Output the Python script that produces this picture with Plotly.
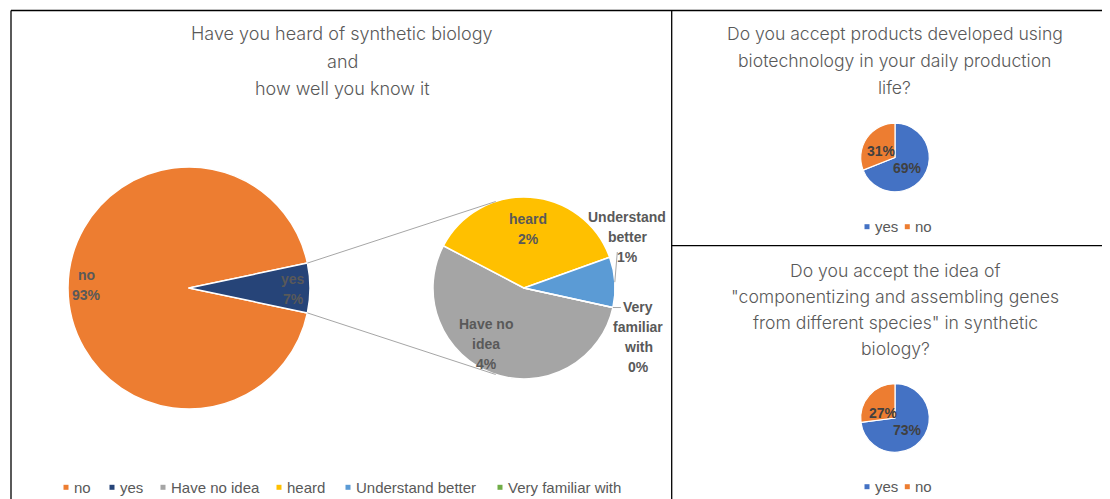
import math
import plotly.graph_objects as go

W, H = 1110, 499          # browser window
OFF = 8                   # default page body margin
FW, FH = W - OFF, H - OFF  # figure size so it fills the window exactly

# ---------------- data ----------------
main_labels = ["no", "yes"]
main_values = [93.4, 6.6]
main_colors = ["#ED7D31", "#264478"]

sub_labels = ["Have no idea", "heard", "Understand better", "Very familiar with"]
sub_values = [3.58, 2.43, 0.59, 0.0]
sub_colors = ["#A5A5A5", "#FFC000", "#5B9BD5", "#70AD47"]

q1_title = ["Have you heard of synthetic biology", "and", "how well you know it"]

q2_title = ["Do you accept products developed using",
            "biotechnology in your daily production", "life?"]
q2_labels = ["yes", "no"]
q2_values = [69, 31]

q3_title = ["Do you accept the idea of", "\"componentizing and assembling genes",
            "from different species\" in synthetic", "biology?"]
q3_labels = ["yes", "no"]
q3_values = [73, 27]
yn_colors = ["#4472C4", "#ED7D31"]

# ---------------- layout helpers (window pixel -> paper) ----------------
def fx(x):
    return (x - OFF) / FW

def fy(y):
    return 1 - (y - OFF) / FH

def domain(cx, cy, r):
    return dict(x=[fx(cx - r), fx(cx + r)], y=[fy(cy + r), fy(cy - r)])

def edge(cx, cy, r, ang):
    a = math.radians(ang)
    return cx + r * math.sin(a), cy - r * math.cos(a)

def pct(v):
    return f"{v:.0f}%"

TXT = "#595959"
LBL_FONT = "Liberation Sans"
TITLE_FONT = "Inter"

annotations = []
shapes = []

def ann(x, y, text, size=14, color=TXT, xanchor="center", family=LBL_FONT, weight=None):
    f = dict(size=size, color=color, family=family)
    if weight is not None:
        f["weight"] = weight
    annotations.append(dict(x=fx(x), y=fy(y), xref="paper", yref="paper", text=text,
                            showarrow=False, xanchor=xanchor, yanchor="middle",
                            font=f, align="center"))

def label(x, y, lines, gap=20, **kw):
    y0 = y - gap * (len(lines) - 1) / 2
    for i, t in enumerate(lines):
        ann(x, y0 + i * gap, t, **kw)

def line(x0, y0, x1, y1, color="#000000", width=1.3):
    shapes.append(dict(type="line", xref="paper", yref="paper", x0=fx(x0), y0=fy(y0),
                       x1=fx(x1), y1=fy(y1), line=dict(color=color, width=width)))

def rect(x0, y0, x1, y1, color):
    shapes.append(dict(type="rect", xref="paper", yref="paper", x0=fx(x0), y0=fy(y0),
                       x1=fx(x1), y1=fy(y1), line=dict(width=0), fillcolor=color))

fig = go.Figure()

# ---------------- main pie ----------------
MCX, MCY, MR = 189, 288, 121
tot = sum(main_values)
main_rot = 450 - 360 * (main_values[0] + main_values[1] / 2) / tot
fig.add_trace(go.Pie(labels=main_labels, values=main_values, sort=False, direction="clockwise",
                     rotation=main_rot, textinfo="none", showlegend=False,
                     marker=dict(colors=main_colors, line=dict(color="white", width=1.5)),
                     domain=domain(MCX, MCY, MR)))

# ---------------- secondary pie ----------------
SCX, SCY, SR = 524, 288, 91
sub_rot = 102.4
stot = sum(sub_values)
fig.add_trace(go.Pie(labels=sub_labels, values=sub_values, sort=False, direction="clockwise",
                     rotation=sub_rot, textinfo="none", showlegend=False,
                     marker=dict(colors=sub_colors, line=dict(color="white", width=1.5)),
                     domain=domain(SCX, SCY, SR)))

# ---------------- small yes/no pies ----------------
for cy, labs, vals in [(157.5, q2_labels, q2_values), (418, q3_labels, q3_values)]:
    fig.add_trace(go.Pie(labels=labs, values=vals, sort=False, direction="clockwise",
                         rotation=0, textinfo="none", showlegend=False,
                         marker=dict(colors=yn_colors, line=dict(color="white", width=1.2)),
                         domain=domain(895, cy, 34.3)))

# ---------------- connector tangent lines ----------------
yes_a0 = main_rot + 360 * main_values[0] / tot
yes_a1 = main_rot + 360
for a, sign in [(yes_a0, 1), (yes_a1, -1)]:
    px_, py_ = edge(MCX, MCY, MR, a)
    dx, dy = px_ - SCX, py_ - SCY
    d = math.hypot(dx, dy)
    base = math.atan2(dy, dx)
    off = math.acos(SR / d)
    t = base + sign * off
    tx, ty = SCX + SR * math.cos(t), SCY + SR * math.sin(t)
    line(px_, py_, tx, ty, color="#A6A6A6", width=1)

# ---------------- panel borders ----------------
line(11, 10.5, 1110, 10.5)
line(11, 10.5, 11, 499)
line(671.7, 10.5, 671.7, 499)
line(671.7, 245.7, 1110, 245.7)

# ---------------- titles ----------------
def title(lines, cx, ys, size):
    for t, y in zip(lines, ys):
        ann(cx, y, t, size=size, family=TITLE_FONT, weight=300)

title(q1_title, 342, [34, 61, 88], 18)
title(q2_title, 894.5, [33.5, 60.5, 87], 17.6)
title(q3_title, 895, [270, 296.5, 322, 348], 17.6)

# ---------------- data labels ----------------
BOLD = dict(weight=700)
label(86, 285, [main_labels[0], pct(main_values[0])], **BOLD)
label(293, 289, [main_labels[1], pct(main_values[1])], **BOLD)

label(528, 229, [sub_labels[1], pct(sub_values[1])], **BOLD)
label(486, 344, ["Have no", "idea", pct(sub_values[0])], **BOLD)
label(627, 237, ["Understand", "better", pct(sub_values[2])], **BOLD)
label(638, 337, ["Very", "familiar", "with", pct(sub_values[3])], **BOLD)

bl_mid = sub_rot + 360 * (sub_values[0] + sub_values[1] + sub_values[2] / 2) / stot
bx, by = edge(SCX, SCY, SR, bl_mid)
line(bx, by, bx + 2.5, 252, color="#A6A6A6", width=1)
vx, vy = edge(SCX, SCY, SR, sub_rot + 360)
line(vx, vy, vx + 8, vy, color="#A6A6A6", width=1)

DARK = dict(color="#404040", weight=700)
ann(881, 151, pct(q2_values[1]), **DARK)
ann(907, 168, pct(q2_values[0]), **DARK)
ann(883, 413, pct(q3_values[1]), **DARK)
ann(907, 430, pct(q3_values[0]), **DARK)

# ---------------- legends ----------------
def legend(items, xs, y):
    for (lab, col), x in zip(items, xs):
        rect(x - 2.5, y - 2.5, x + 2.5, y + 2.5, col)
        ann(x + 6, y, lab, size=15, xanchor="left")

legend(list(zip(main_labels + sub_labels, main_colors + sub_colors)),
       [66, 112, 163, 279, 348, 500], 487.3)
legend(list(zip(q2_labels, yn_colors)), [867, 907.3], 226.7)
legend(list(zip(q3_labels, yn_colors)), [867, 907.3], 486.7)

fig.update_layout(width=FW, height=FH, autosize=False, margin=dict(l=0, r=0, t=0, b=0),
                  paper_bgcolor="white", plot_bgcolor="white",
                  annotations=annotations, shapes=shapes)

fig.write_html("out.html")
